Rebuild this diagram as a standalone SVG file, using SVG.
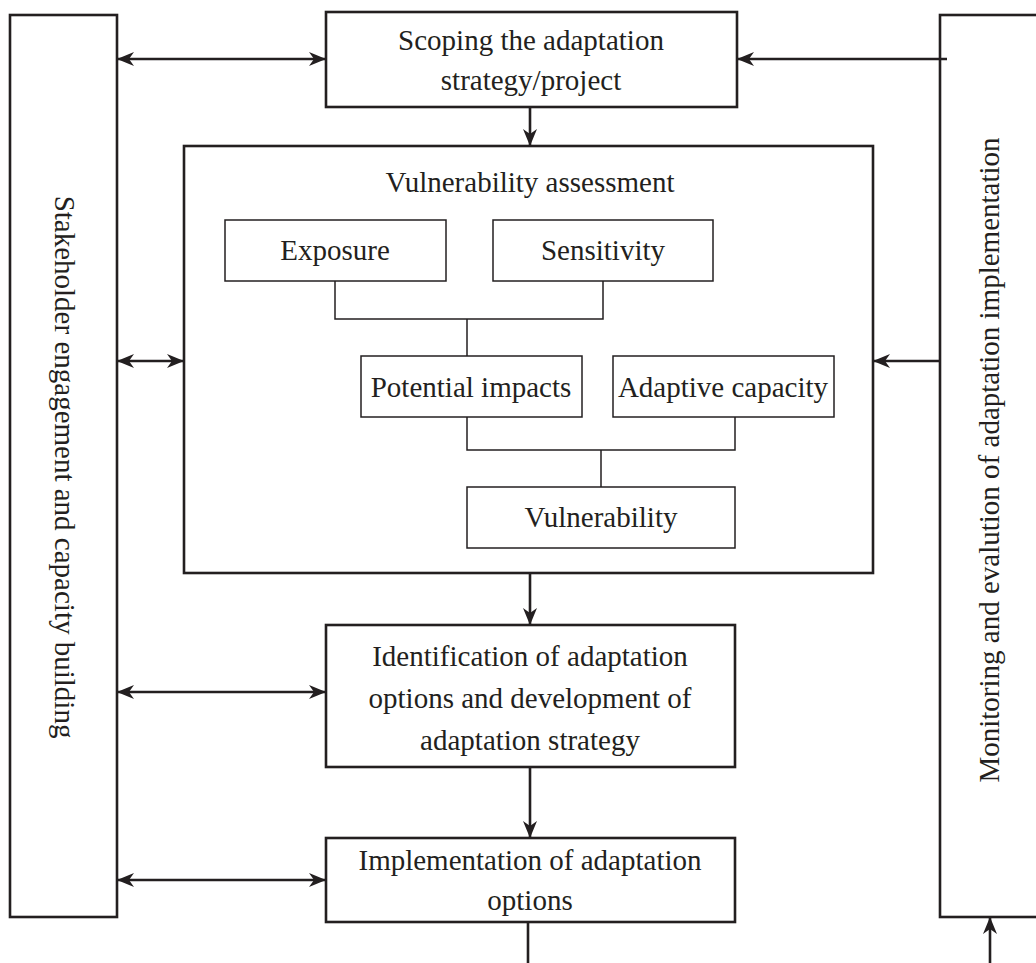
<svg xmlns="http://www.w3.org/2000/svg" width="1036" height="963" viewBox="0 0 1036 963">
<style>
.main{fill:#fff;stroke:#231f20;stroke-width:2.6}
.inner{fill:#fff;stroke:#231f20;stroke-width:1.5}
.arr{fill:none;stroke:#231f20;stroke-width:2.6}
.thin{fill:none;stroke:#231f20;stroke-width:1.5}
text{font-family:"Liberation Serif","Times New Roman",serif;font-size:29px;fill:#231f20;text-anchor:middle}
</style>
<defs>
<marker id="ah" markerUnits="userSpaceOnUse" markerWidth="18" markerHeight="14" refX="17" refY="7" orient="auto-start-reverse">
<path d="M0,0 L17,7 L0,14 L5,7 Z" fill="#231f20"/>
</marker>
</defs>
<rect width="1036" height="963" fill="#fff"/>
<g id="stakeholder">
<rect class="main" x="10" y="15" width="107" height="902"/>
<text transform="translate(55,467) rotate(90)">Stakeholder engagement and capacity building</text>
</g>
<g id="monitoring">
<rect class="main" x="940" y="15" width="110" height="902"/>
<text transform="translate(999,460) rotate(-90)">Monitoring and evalution of adaptation implementation</text>
</g>
<g id="scoping">
<rect class="main" x="326" y="12" width="411" height="95"/>
<text x="531" y="50">Scoping the adaptation</text>
<text x="531" y="90">strategy/project</text>
</g>
<g id="va">
<rect class="main" x="184" y="146" width="689" height="427"/>
<text x="530" y="192">Vulnerability assessment</text>
</g>
<g id="exposure">
<rect class="inner" x="225" y="220" width="221" height="61"/>
<text x="335" y="260">Exposure</text>
</g>
<g id="sensitivity">
<rect class="inner" x="493" y="220" width="220" height="61"/>
<text x="603" y="260">Sensitivity</text>
</g>
<g id="potential">
<rect class="inner" x="361" y="356" width="221" height="61"/>
<text x="471" y="397">Potential impacts</text>
</g>
<g id="adaptive">
<rect class="inner" x="613" y="356" width="221" height="61"/>
<text x="723" y="397">Adaptive capacity</text>
</g>
<g id="vulnerability">
<rect class="inner" x="467" y="487" width="268" height="61"/>
<text x="601" y="527">Vulnerability</text>
</g>
<g id="identification">
<rect class="main" x="326" y="625" width="409" height="142"/>
<text x="530" y="666">Identification of adaptation</text>
<text x="530" y="708">options and development of</text>
<text x="530" y="750">adaptation strategy</text>
</g>
<g id="implementation">
<rect class="main" x="326" y="838" width="409" height="84"/>
<text x="530" y="870">Implementation of adaptation</text>
<text x="530" y="910">options</text>
</g>
<g id="connectors">
<path class="thin" d="M335,281 V319 H603 V281 M467,319 V356"/>
<path class="thin" d="M467,417 V450 H735 V417 M601,450 V487"/>
<line class="arr" x1="117" y1="59" x2="326" y2="59" marker-start="url(#ah)" marker-end="url(#ah)"/>
<line class="arr" x1="947" y1="59" x2="737" y2="59" marker-end="url(#ah)"/>
<line class="arr" x1="530" y1="107" x2="530" y2="146" marker-end="url(#ah)"/>
<line class="arr" x1="117" y1="361" x2="184" y2="361" marker-start="url(#ah)" marker-end="url(#ah)"/>
<line class="arr" x1="940" y1="361" x2="873" y2="361" marker-end="url(#ah)"/>
<line class="arr" x1="530" y1="573" x2="530" y2="625" marker-end="url(#ah)"/>
<line class="arr" x1="117" y1="692" x2="326" y2="692" marker-start="url(#ah)" marker-end="url(#ah)"/>
<line class="arr" x1="530" y1="767" x2="530" y2="838" marker-end="url(#ah)"/>
<line class="arr" x1="117" y1="880" x2="326" y2="880" marker-start="url(#ah)" marker-end="url(#ah)"/>
<line class="arr" x1="528" y1="922" x2="528" y2="963"/>
<line class="arr" x1="990" y1="963" x2="990" y2="917" marker-end="url(#ah)"/>
</g>
</svg>
